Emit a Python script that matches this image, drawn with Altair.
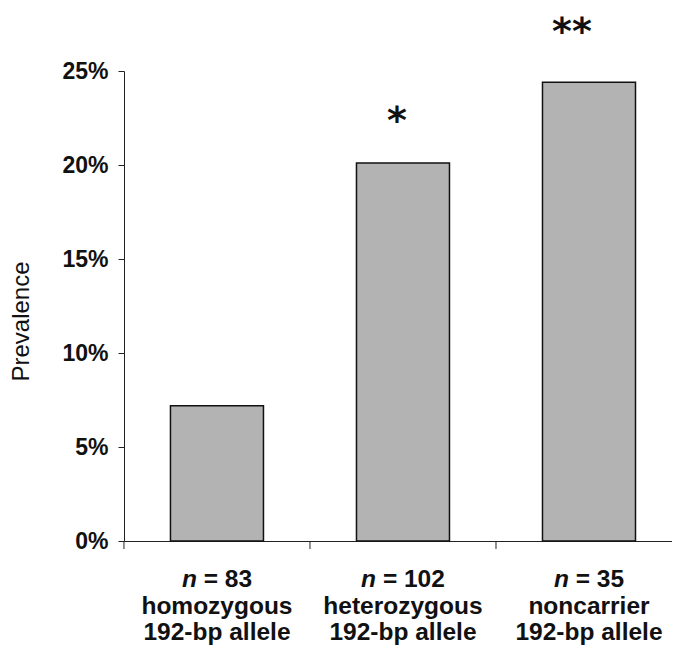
import altair as alt
import pandas as pd

groups = ["homozygous", "heterozygous", "noncarrier"]
n_values = ["83", "102", "35"]
allele_text = ["192-bp allele", "192-bp allele", "192-bp allele"]
prevalence = [7.2, 20.1, 24.4]

stars = ["*", "**"]
star_groups = ["heterozygous", "noncarrier"]
star_y = [22.6, 27.3]

FONT = "Liberation Sans"
LBL = 24.5

df = pd.DataFrame({"group": groups, "n": n_values, "allele": allele_text, "prev": prevalence})
df_star = pd.DataFrame({"group": star_groups, "star": stars, "sy": star_y})

W, H = 548, 470
y_scale = alt.Scale(domain=[0, 25])
x_scale = alt.Scale(paddingInner=0.5, paddingOuter=0.223, align=0.56)

y_axis = alt.Axis(values=[0, 5, 10, 15, 20, 25], labelExpr="datum.value + '%'",
                  title="Prevalence", titleFont=FONT, titleFontSize=24,
                  titleFontWeight="normal", titleColor="#111", titlePadding=28,
                  titleY=250,
                  labelFont=FONT, labelFontSize=23, labelFontWeight="bold",
                  labelColor="#111", labelPadding=10, tickSize=6,
                  tickColor="#222", domainColor="#222", grid=False)

x_enc = alt.X(
    "group:N", sort=groups, scale=x_scale,
    axis=alt.Axis(labels=False, title=None, ticks=False,
                  domainColor="#222", domainWidth=1),
)

bars = alt.Chart(df).mark_bar(fill="#b3b3b3", stroke="#111", strokeWidth=1.5).encode(
    x=x_enc,
    y=alt.Y("prev:Q", scale=y_scale, axis=y_axis),
)

# category separator ticks on the x axis (at step boundaries)
sep_ticks = alt.Chart(df).mark_rule(color="#222", strokeWidth=1, xOffset=-46.5).encode(
    x=alt.X("group:N", sort=groups, bandPosition=0),
    y=alt.value(H), y2=alt.value(H + 8),
)

base = alt.Chart(df).encode(x=alt.X("group:N", sort=groups))

n_italic = base.mark_text(font=FONT, fontSize=LBL, fontWeight="bold", fontStyle="italic",
                          align="right", baseline="alphabetic", color="#111",
                          dx=alt.expr("-6.48 - 6.81*length(datum.n)")).encode(
    y=alt.value(H + 46), text=alt.value("n"))

n_rest = base.transform_calculate(rest="'= ' + datum.n").mark_text(
    font=FONT, fontSize=LBL, fontWeight="bold", align="left", baseline="alphabetic",
    color="#111", dx=alt.expr("0.33 - 6.81*length(datum.n)")).encode(
    y=alt.value(H + 46), text="rest:N")

line2 = base.mark_text(font=FONT, fontSize=LBL, fontWeight="bold", baseline="alphabetic",
                       color="#111").encode(y=alt.value(H + 73), text="group:N")
line3 = base.mark_text(font=FONT, fontSize=LBL, fontWeight="bold", baseline="alphabetic",
                       color="#111").encode(y=alt.value(H + 99), text="allele:N")

star1 = alt.Chart(df_star).transform_filter("datum.star == '*'").mark_text(
    font="DejaVu Sans", fontSize=38, fontWeight="bold", baseline="middle", dx=-6, dy=6,
    color="#111").encode(
    x=alt.X("group:N", sort=groups), y=alt.Y("sy:Q", scale=y_scale, axis=y_axis), text="star:N")
star2 = alt.Chart(df_star).transform_filter("datum.star == '**'").mark_text(
    font="DejaVu Sans", fontSize=38, fontWeight="bold", baseline="middle", dx=-17, dy=5,
    color="#111").encode(
    x=alt.X("group:N", sort=groups), y=alt.Y("sy:Q", scale=y_scale, axis=y_axis), text="star:N")

chart = alt.layer(bars, sep_ticks, star1, star2, n_italic, n_rest, line2, line3).properties(
    width=W, height=H,
    autosize=alt.AutoSizeParams(type="none"),
    padding={"left": 116, "top": 63, "right": 0, "bottom": 108},
    background="white",
).configure_view(stroke=None)

chart.save("out.html", embed_options={"renderer": "svg", "actions": False})
